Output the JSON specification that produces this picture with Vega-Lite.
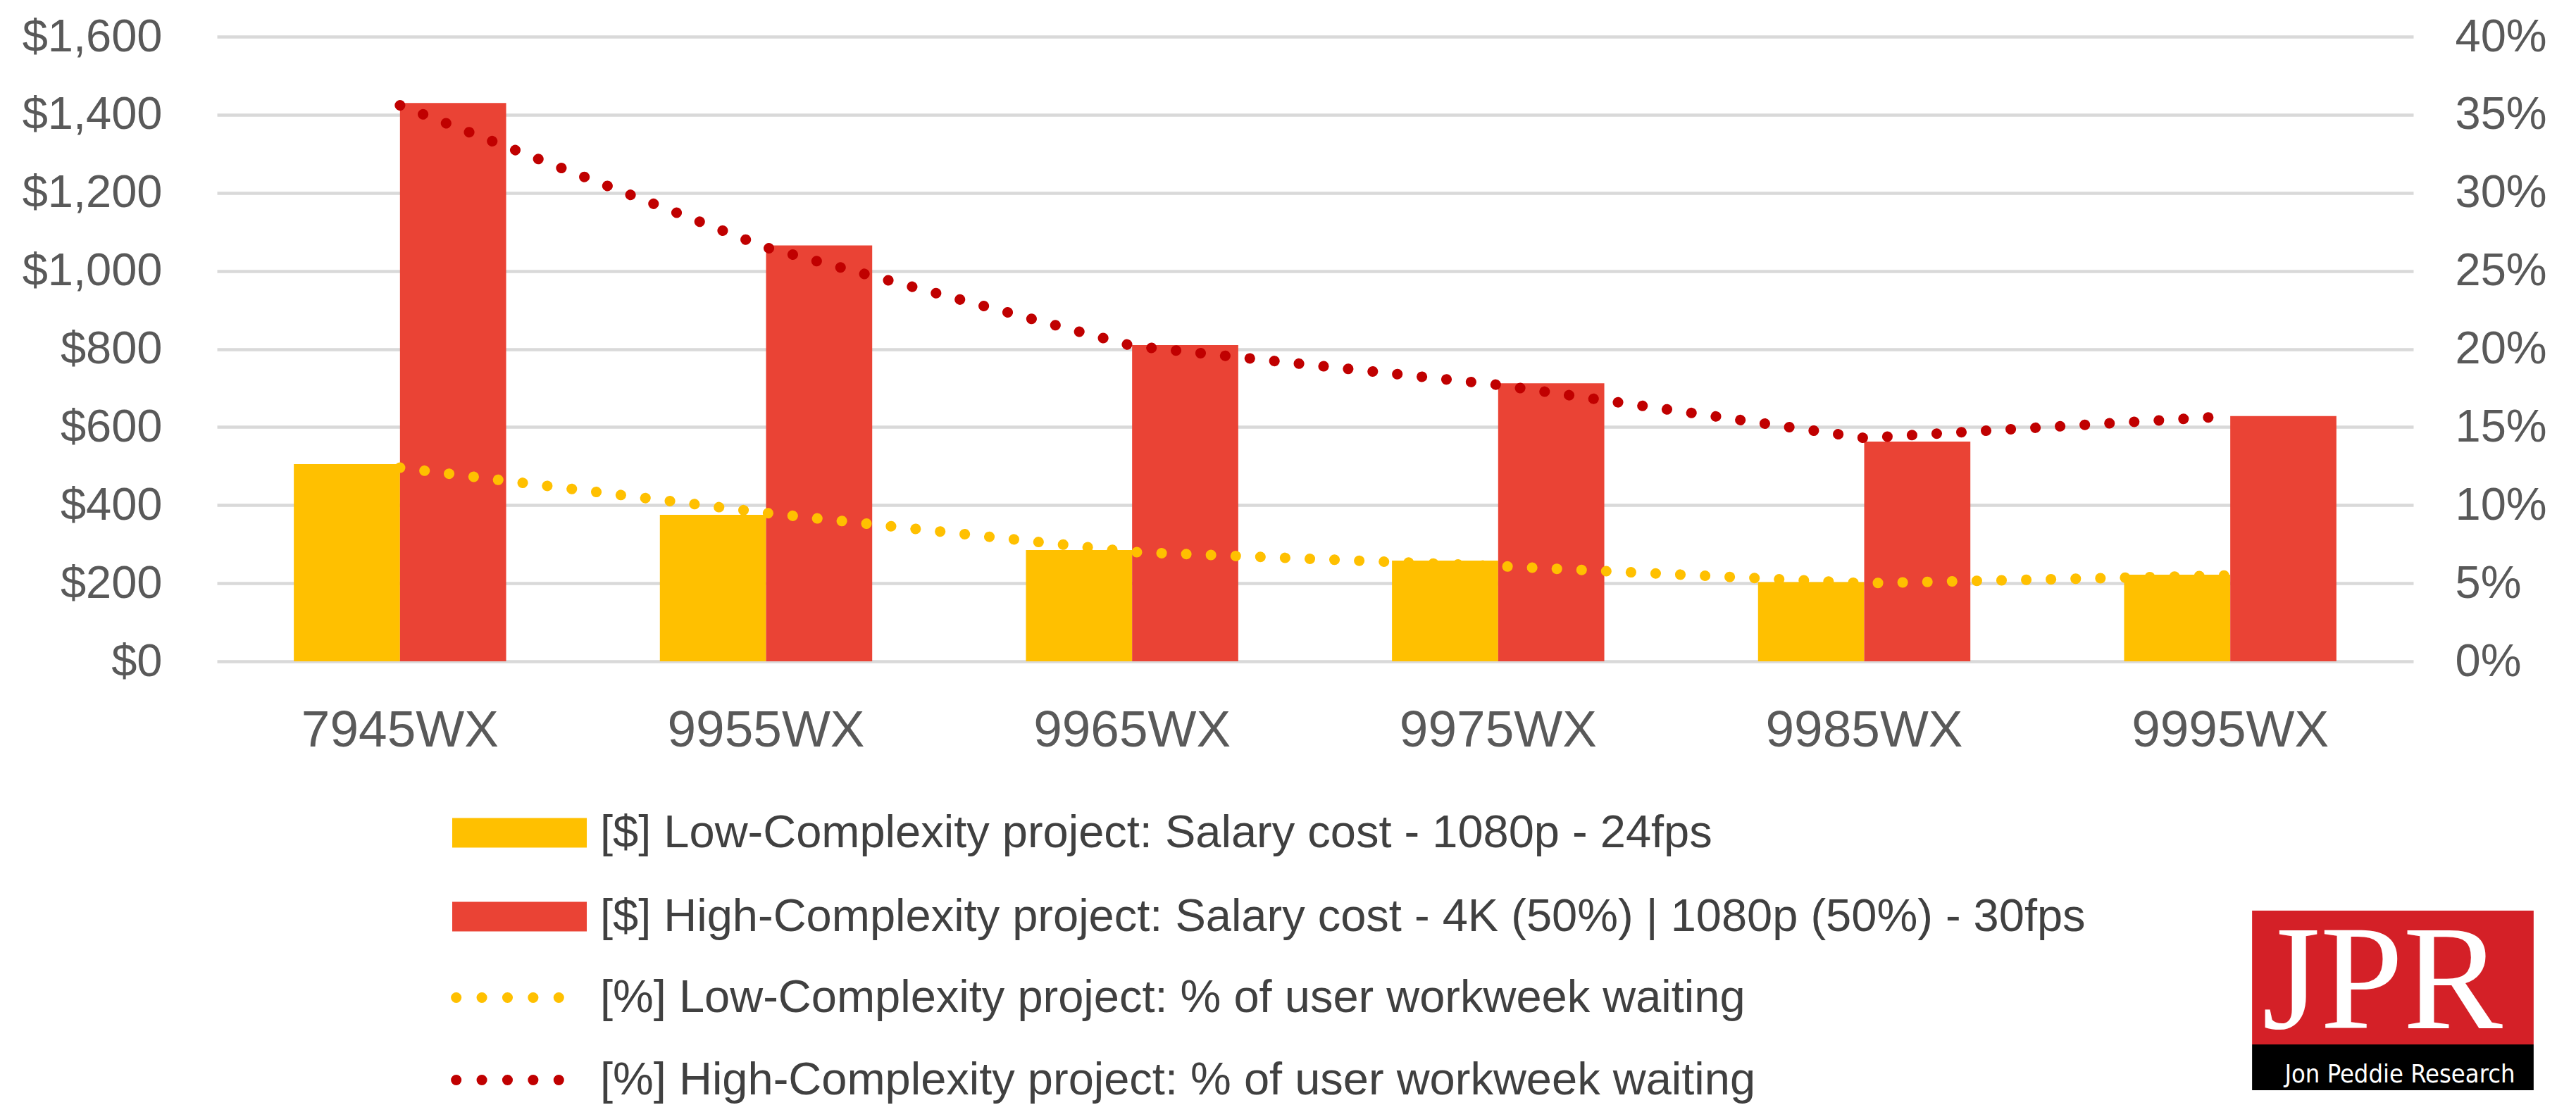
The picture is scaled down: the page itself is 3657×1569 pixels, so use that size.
{
  "$schema": "https://vega.github.io/schema/vega-lite/v6.json",
  "width": 3118,
  "height": 887,
  "autosize": {"type": "none"},
  "padding": {"left": 308, "top": 52, "right": 231, "bottom": 630},
  "background": "white",
  "config": {"view": {"stroke": null}, "font": "Liberation Sans"},
  "datasets": {
    "bars": [
      {"model": "7945WX", "series": "[$] Low-Complexity project: Salary cost - 1080p - 24fps", "cost": 505},
      {"model": "7945WX", "series": "[$] High-Complexity project: Salary cost - 4K (50%) | 1080p (50%) - 30fps", "cost": 1430},
      {"model": "9955WX", "series": "[$] Low-Complexity project: Salary cost - 1080p - 24fps", "cost": 375},
      {"model": "9955WX", "series": "[$] High-Complexity project: Salary cost - 4K (50%) | 1080p (50%) - 30fps", "cost": 1065},
      {"model": "9965WX", "series": "[$] Low-Complexity project: Salary cost - 1080p - 24fps", "cost": 285},
      {"model": "9965WX", "series": "[$] High-Complexity project: Salary cost - 4K (50%) | 1080p (50%) - 30fps", "cost": 810},
      {"model": "9975WX", "series": "[$] Low-Complexity project: Salary cost - 1080p - 24fps", "cost": 258},
      {"model": "9975WX", "series": "[$] High-Complexity project: Salary cost - 4K (50%) | 1080p (50%) - 30fps", "cost": 712},
      {"model": "9985WX", "series": "[$] Low-Complexity project: Salary cost - 1080p - 24fps", "cost": 203},
      {"model": "9985WX", "series": "[$] High-Complexity project: Salary cost - 4K (50%) | 1080p (50%) - 30fps", "cost": 563},
      {"model": "9995WX", "series": "[$] Low-Complexity project: Salary cost - 1080p - 24fps", "cost": 222},
      {"model": "9995WX", "series": "[$] High-Complexity project: Salary cost - 4K (50%) | 1080p (50%) - 30fps", "cost": 628}
    ],
    "lines": [
      {"model": "7945WX", "series": "[%] Low-Complexity project: % of user workweek waiting", "pct": 0.124},
      {"model": "9955WX", "series": "[%] Low-Complexity project: % of user workweek waiting", "pct": 0.095},
      {"model": "9965WX", "series": "[%] Low-Complexity project: % of user workweek waiting", "pct": 0.070},
      {"model": "9975WX", "series": "[%] Low-Complexity project: % of user workweek waiting", "pct": 0.061},
      {"model": "9985WX", "series": "[%] Low-Complexity project: % of user workweek waiting", "pct": 0.050},
      {"model": "9995WX", "series": "[%] Low-Complexity project: % of user workweek waiting", "pct": 0.055},
      {"model": "7945WX", "series": "[%] High-Complexity project: % of user workweek waiting", "pct": 0.356},
      {"model": "9955WX", "series": "[%] High-Complexity project: % of user workweek waiting", "pct": 0.265},
      {"model": "9965WX", "series": "[%] High-Complexity project: % of user workweek waiting", "pct": 0.202},
      {"model": "9975WX", "series": "[%] High-Complexity project: % of user workweek waiting", "pct": 0.177},
      {"model": "9985WX", "series": "[%] High-Complexity project: % of user workweek waiting", "pct": 0.143},
      {"model": "9995WX", "series": "[%] High-Complexity project: % of user workweek waiting", "pct": 0.157}
    ]
  },
  "layer": [
    {
      "layer": [
        {
          "data": {"name": "bars"},
          "mark": {"type": "bar"},
          "encoding": {
            "x": {
              "field": "model", "type": "nominal", "sort": null,
              "scale": {"paddingInner": 0.42, "paddingOuter": 0.21},
              "axis": {"title": null, "domain": false, "ticks": false, "labelAngle": 0, "labelFontSize": 73, "labelColor": "#595959", "labelPadding": 62, "labelFont": "Liberation Sans", "labelLimit": 0}
            },
            "xOffset": {
              "field": "series", "type": "nominal",
              "scale": {"domain": ["[$] Low-Complexity project: Salary cost - 1080p - 24fps", "[$] High-Complexity project: Salary cost - 4K (50%) | 1080p (50%) - 30fps"], "paddingInner": 0, "paddingOuter": 0}
            },
            "y": {
              "field": "cost", "type": "quantitative",
              "scale": {"domain": [0, 1600], "nice": false},
              "axis": {"title": null, "orient": "left", "values": [0, 200, 400, 600, 800, 1000, 1200, 1400, 1600], "format": "$,d", "domain": false, "ticks": false, "grid": true, "gridColor": "#D9D9D9", "gridWidth": 4.5, "labelFontSize": 65, "labelColor": "#595959", "labelPadding": 78, "labelFont": "Liberation Sans", "labelLimit": 0}
            },
            "fill": {
              "field": "series", "type": "nominal",
              "scale": {"domain": ["[$] Low-Complexity project: Salary cost - 1080p - 24fps", "[$] High-Complexity project: Salary cost - 4K (50%) | 1080p (50%) - 30fps"], "range": ["#FFC000", "#EA4335"]},
              "legend": {"orient": "none", "legendX": 324, "legendY": 1098, "direction": "vertical", "title": null, "padding": 0, "symbolType": "M-1,-0.93H7.49V0.93H-1Z", "symbolSize": 2025, "symbolStrokeWidth": 0, "symbolOpacity": 1, "labelFontSize": 65, "labelColor": "#404040", "labelFont": "Liberation Sans", "labelOffset": 155, "labelLimit": 0, "rowPadding": 53}
            }
          }
        },
        {
          "data": {"name": "lines"},
          "mark": {"type": "line", "strokeWidth": 15, "strokeDash": [0.1, 35], "strokeCap": "round"},
          "encoding": {
            "x": {"field": "model", "type": "nominal", "sort": null},
            "y": {
              "field": "pct", "type": "quantitative",
              "scale": {"domain": [0, 0.4], "nice": false},
              "axis": {"title": null, "orient": "right", "values": [0, 0.05, 0.1, 0.15, 0.2, 0.25, 0.3, 0.35, 0.4], "format": ".0%", "domain": false, "ticks": false, "grid": false, "labelFontSize": 65, "labelColor": "#595959", "labelPadding": 59, "labelFont": "Liberation Sans", "labelLimit": 0}
            },
            "stroke": {
              "field": "series", "type": "nominal",
              "scale": {"domain": ["[%] Low-Complexity project: % of user workweek waiting", "[%] High-Complexity project: % of user workweek waiting"], "range": ["#FFC000", "#C00000"]},
              "legend": {"orient": "none", "legendX": 324, "legendY": 1332, "direction": "vertical", "title": null, "padding": 0, "symbolType": "M-0.75,0H7.0", "symbolSize": 2025, "symbolStrokeWidth": 15, "symbolDash": [0.1, 36.3], "symbolOpacity": 1, "labelFontSize": 65, "labelColor": "#404040", "labelFont": "Liberation Sans", "labelOffset": 155, "labelLimit": 0, "rowPadding": 51, "encode": {"symbols": {"update": {"strokeCap": {"value": "round"}, "strokeWidth": {"value": 15}}}}}
            }
          }
        }
      ],
      "resolve": {"scale": {"y": "independent"}}
    },
    {
      "data": {"values": [{}]},
      "layer": [
        {
          "mark": {"type": "rect", "color": "#D42027"},
          "encoding": {
            "x": {"datum": 0.9266, "type": "quantitative", "scale": {"domain": [0, 1], "nice": false, "zero": false}, "axis": null},
            "x2": {"datum": 1.0548},
            "y": {"datum": -0.399, "type": "quantitative", "scale": {"domain": [0, 1], "nice": false, "zero": false}, "axis": null},
            "y2": {"datum": -0.6133}
          }
        },
        {
          "mark": {"type": "rect", "color": "#000000"},
          "encoding": {
            "x": {"datum": 0.9266, "type": "quantitative"},
            "x2": {"datum": 1.0548},
            "y": {"datum": -0.6133, "type": "quantitative"},
            "y2": {"datum": -0.6866}
          }
        },
        {
          "mark": {"type": "text", "text": "JPR", "font": "Liberation Serif", "fontSize": 212, "color": "white", "align": "center", "baseline": "alphabetic"},
          "encoding": {
            "x": {"datum": 0.9859, "type": "quantitative"},
            "y": {"datum": -0.587, "type": "quantitative"}
          }
        },
        {
          "mark": {"type": "text", "text": "Jon Peddie Research", "font": "DejaVu Sans Condensed, Liberation Sans", "fontSize": 36, "color": "white", "align": "center", "baseline": "alphabetic"},
          "encoding": {
            "x": {"datum": 0.9939, "type": "quantitative"},
            "y": {"datum": -0.674, "type": "quantitative"}
          }
        }
      ]
    }
  ],
  "resolve": {"scale": {"x": "independent", "y": "independent", "fill": "independent", "stroke": "independent"}}
}
